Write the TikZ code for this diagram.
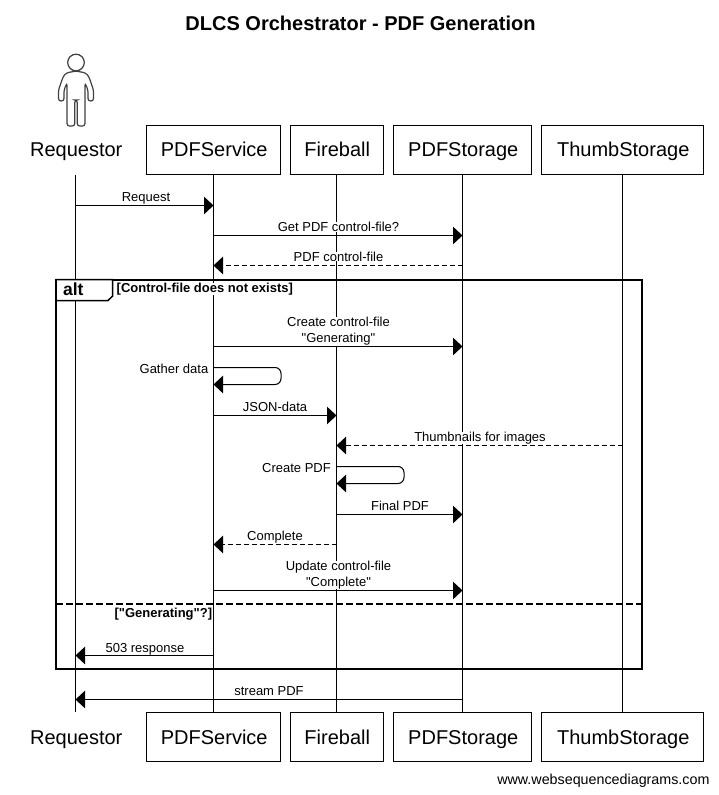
\documentclass[tikz,border=0pt]{standalone}
\usepackage{fontspec}
\setmainfont[Ligatures=TeXOff]{Liberation Sans}
\usetikzlibrary{arrows.meta}
\tikzset{x=1pt,y=-1pt,>={Triangle[length=9.5pt,width=17.5pt]},
  partybox/.style={draw,line width=1pt,minimum height=49pt,font=\fontsize{20}{24}\selectfont,inner sep=0pt,text height=14.3pt,text depth=0pt,execute at begin node={\hspace{1.5pt}}},
  partytext/.style={partybox,draw=none},
  lbl/.style={fill=white,inner sep=0pt,font=\fontsize{13}{16}\selectfont,align=center,anchor=base},
  guard/.style={lbl,font=\bfseries\fontsize{13}{16}\selectfont},
  msg/.style={line width=1pt,->},
  dashmsg/.style={dash pattern=on 5pt off 3pt},
  frameline/.style={line width=2pt}}
\newcommand{\party}[5][partybox]{\node[#1,minimum width=#4pt] (#2T) at (#3,149.5) {#5}; \node[#1,minimum width=#4pt] (#2B) at (#3,737) {#5}; \draw[line width=1pt] (#2T) -- (#2B);}
\newcommand{\msg}[5]{\coordinate (#1a) at (#2T |- 0,#4); \coordinate (#1b) at (#3T |- 0,#4); \draw[msg,#5] (#1a) -- (#1b);}
\newcommand{\selfmsg}[4]{\coordinate (#1a) at (#2T |- 0,#3); \coordinate (#1b) at (#2T |- 0,#4); \coordinate (#1c) at ([xshift=67.5pt]#1a); \draw[msg,rounded corners=6pt] (#1a) -- (#1c) |- (#1b);}

\begin{document}
\begin{tikzpicture}
    \useasboundingbox (0,0) rectangle (718,795);
    \node[font=\bfseries\fontsize{20}{24}\selectfont] (title) at (360.5,23) {DLCS Orchestrator - PDF Generation};
    % parties
    \party[partytext]{Req}{75.5}{92}{Requestor}
    \party{PS}{213.5}{134}{PDFService} \party{FB}{336.5}{93}{Fireball}
    \party{PT}{462.5}{138}{PDFStorage} \party{TS}{622.5}{162.5}{ThumbStorage}
    % actor
    \draw[line width=1.2pt,draw=black!75] (76,62.5) circle (8.3);
    \draw[line width=1.2pt,draw=black!75,rounded corners=2.5pt] (76,71) -- (66,73) -- (63,77) -- (58.5,90) -- (58.5,101) -- (64,101) -- (64,90) -- (67,83) -- (67,126) -- (74.8,126) -- (74.8,100) -- (77.2,100) -- (77.2,126) -- (85,126) -- (85,83) -- (88,90) -- (88,101) -- (93.5,101) -- (93.5,90) -- (89,77) -- (86,73) -- cycle;
    % frame
    \draw[frameline] (56,279.5) rectangle (641.5,668.5);
    \draw[frameline,dash pattern=on 7pt off 3pt] (56,604) -- (641.5,604);
    \draw[line width=1.5pt,fill=white] (56,279.5) -- (112.7,279.5) -- (112.7,296) -- (108,300.5) -- (56,300.5) -- cycle;
    \node[font=\bfseries\fontsize{17.5}{22}\selectfont,anchor=base,inner sep=0pt] (alt) at (73.3,295) {alt};
    \node[guard,anchor=base west] (g1) at (116.5,292) {[Control-file does not exists]};
    \node[guard,anchor=base east] (g2) at (212.3,617) {["Generating"?]};
    % labels
    \node[lbl] (l1) at (146,201) {Request};
    \node[lbl] (l2) at (338.5,231.5) {Get PDF control-file?};
    \node[lbl] (l3) at (338.5,261) {PDF control-file};
    \node[lbl,anchor=south] (l4) at (338.5,345.8) {Create control-file\\"Generating"};
    \node[lbl,anchor=base east] (l5) at (208.5,373) {Gather data};
    \node[lbl] (l6) at (275,411) {JSON-data};
    \node[lbl] (l7) at (480,441.5) {Thumbnails for images};
    \node[lbl,anchor=base east] (l8) at (331,472) {Create PDF};
    \node[lbl] (l9) at (400,510) {Final PDF};
    \node[lbl] (l10) at (275,540.5) {Complete};
    \node[lbl,anchor=south] (l11) at (338.5,589.4) {Update control-file\\"Complete"};
    \node[lbl] (l12) at (145,652) {503 response};
    \node[lbl] (l13) at (269,695) {stream PDF};
    % messages
    \msg{m1}{Req}{PS}{205.5}{} \msg{m2}{PS}{PT}{235.5}{}
    \msg{m3}{PT}{PS}{265.5}{dashmsg} \msg{m4}{PS}{PT}{346.5}{}
    \selfmsg{m5}{PS}{367.5}{384.5} \msg{m6}{PS}{FB}{415.5}{}
    \msg{m7}{TS}{FB}{445.5}{dashmsg} \selfmsg{m8}{FB}{466.5}{483.5}
    \msg{m9}{FB}{PT}{514.5}{} \msg{m10}{FB}{PS}{544.5}{dashmsg}
    \msg{m11}{PS}{PT}{590.5}{} \msg{m12}{PS}{Req}{655.5}{}
    \msg{m13}{PT}{Req}{699.5}{}
    \node[font=\fontsize{14.3}{17}\selectfont,anchor=base east,inner sep=0pt] (site) at (709.7,784) {www.websequencediagrams.com};
\end{tikzpicture}
\end{document}
